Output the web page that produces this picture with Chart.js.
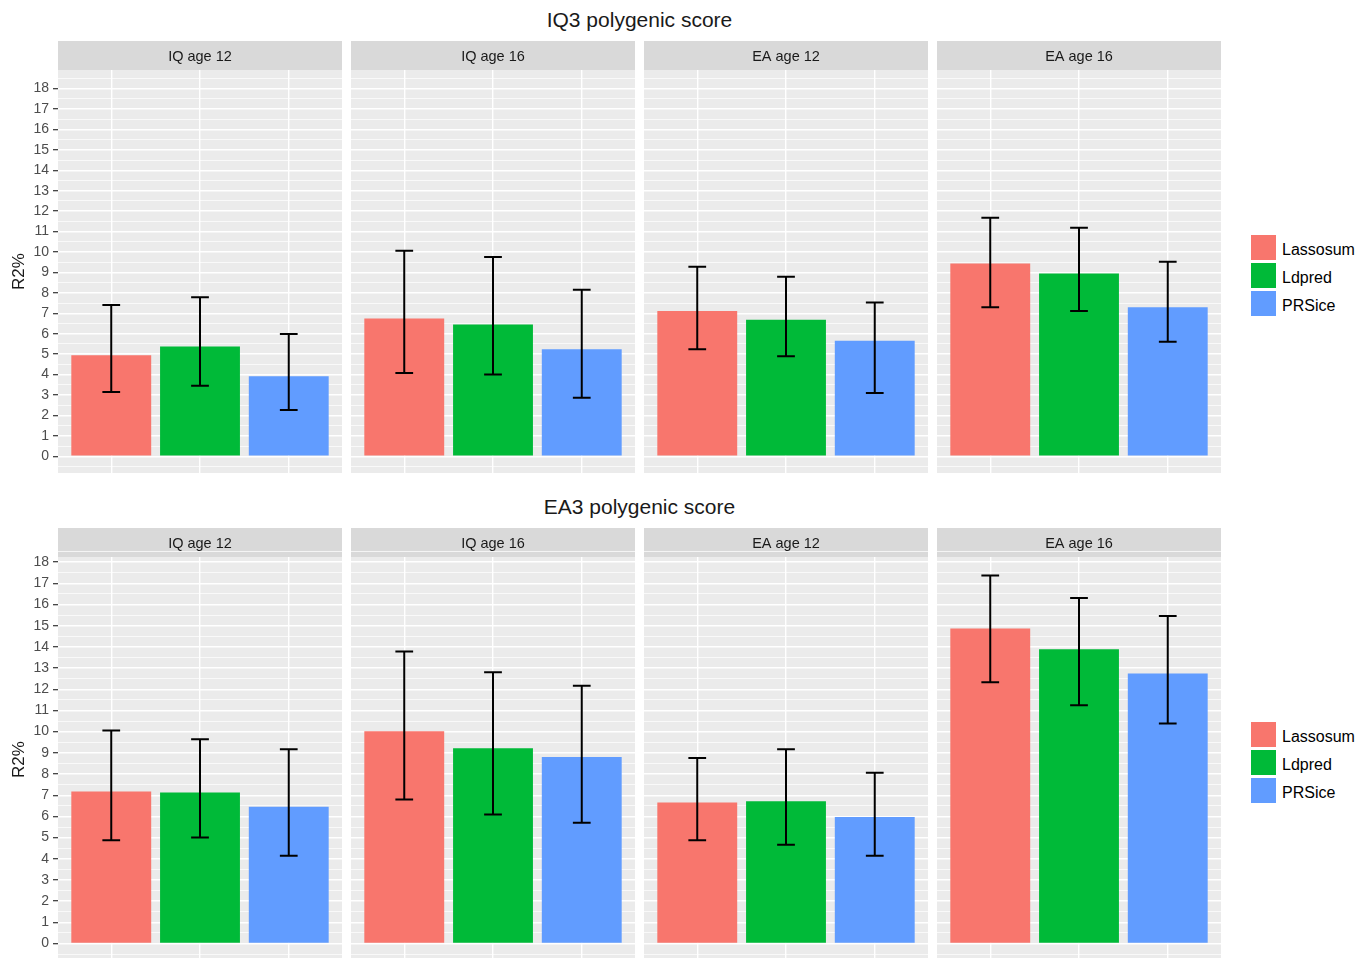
<!DOCTYPE html>
<html>
<head>
<meta charset="utf-8">
<script src="https://cdn.jsdelivr.net/npm/chart.js@4.4.1/dist/chart.umd.min.js"></script>
<style>
body { margin: 0; background: #fff; width: 1371px; height: 958px; overflow: hidden; position: relative; font-family: "Liberation Sans", Arial, sans-serif; }
canvas { position: absolute; }
.titulo { position: absolute; left: 58px; width: 1163px; text-align: center; font-size: 21px; line-height: 24px; color: #1a1a1a; }
.legenda { position: absolute; left: 1251px; }
.item { height: 28px; display: flex; align-items: center; }
.caixa { width: 25px; height: 25px; margin-right: 6px; }
.item span { font-size: 16px; color: #000; position: relative; top: 3px; }
</style>
</head>
<body>
<div class="titulo" style="top:8px">IQ3 polygenic score</div>
<div class="titulo" style="top:495px">EA3 polygenic score</div>
<div class="legenda" id="legenda-0" style="top:233px"></div>
<div class="legenda" id="legenda-1" style="top:720px"></div>
<script>
// Facets and methods
const panels = ['IQ age 12', 'IQ age 16', 'EA age 12', 'EA age 16'];
const methods = ['Lassosum', 'Ldpred', 'PRSice'];
const colors = ['#F8766D', '#00BA38', '#619CFF'];
const yTicks = [0, 1, 2, 3, 4, 5, 6, 7, 8, 9, 10, 11, 12, 13, 14, 15, 16, 17, 18];

// IQ3 polygenic score (R2 %, one value per panel)
const iq3Lassosum = [4.95, 6.75, 7.11, 9.44];
const iq3LassosumLow = [3.15, 4.07, 5.24, 7.29];
const iq3LassosumHigh = [7.40, 10.06, 9.28, 11.68];
const iq3Ldpred = [5.37, 6.45, 6.68, 8.95];
const iq3LdpredLow = [3.45, 4.00, 4.90, 7.11];
const iq3LdpredHigh = [7.78, 9.75, 8.79, 11.19];
const iq3PRSice = [3.92, 5.24, 5.65, 7.29];
const iq3PRSiceLow = [2.27, 2.86, 3.10, 5.60];
const iq3PRSiceHigh = [5.98, 8.15, 7.53, 9.52];

// EA3 polygenic score
const ea3Lassosum = [7.18, 10.02, 6.66, 14.87];
const ea3LassosumLow = [4.88, 6.80, 4.88, 12.33];
const ea3LassosumHigh = [10.05, 13.78, 8.76, 17.37];
const ea3Ldpred = [7.13, 9.21, 6.72, 13.89];
const ea3LdpredLow = [5.01, 6.09, 4.66, 11.24];
const ea3LdpredHigh = [9.64, 12.80, 9.17, 16.31];
const ea3PRSice = [6.46, 8.80, 5.97, 12.74];
const ea3PRSiceLow = [4.14, 5.70, 4.14, 10.38];
const ea3PRSiceHigh = [9.17, 12.17, 8.06, 15.46];

const rows = [
    {
        top: 41, plotHeight: 403, yMin: -0.82, yMax: 18.91,
        values: [iq3Lassosum, iq3Ldpred, iq3PRSice],
        low: [iq3LassosumLow, iq3LdpredLow, iq3PRSiceLow],
        high: [iq3LassosumHigh, iq3LdpredHigh, iq3PRSiceHigh]
    },
    {
        top: 528, plotHeight: 405, yMin: -0.87, yMax: 18.24,
        values: [ea3Lassosum, ea3Ldpred, ea3PRSice],
        low: [ea3LassosumLow, ea3LdpredLow, ea3PRSiceLow],
        high: [ea3LassosumHigh, ea3LdpredHigh, ea3PRSiceHigh]
    }
];

const panelLeft = [58, 351, 644, 937];
const panelWidth = 284;
const stripHeight = 29;
const axisWidth = 58;
const fonte = '"Liberation Sans", Arial, sans-serif';

// Panel background and facet strip
const stripPlugin = {
    id: 'strip',
    beforeDraw(chart) {
        const { ctx, chartArea } = chart;
        ctx.save();
        ctx.fillStyle = '#D9D9D9';
        ctx.fillRect(chartArea.left, 0, chartArea.width, chartArea.top);
        ctx.fillStyle = '#EBEBEB';
        ctx.fillRect(chartArea.left, chartArea.top, chartArea.width, chartArea.height);
        ctx.font = '14.5px ' + fonte;
        ctx.fillStyle = '#1A1A1A';
        ctx.textAlign = 'center';
        ctx.textBaseline = 'middle';
        ctx.fillText(chart.options.plugins.strip.text, chartArea.left + chartArea.width / 2, chartArea.top / 2 + 1);
        ctx.restore();
    }
};

// Error bars from the dataset's low/high arrays
const errorBarPlugin = {
    id: 'errorBars',
    afterDatasetsDraw(chart) {
        const { ctx } = chart;
        const x = chart.scales.x;
        const y = chart.scales.y;
        const ds = chart.data.datasets[0];
        ctx.save();
        ctx.strokeStyle = '#000';
        ctx.lineWidth = 2;
        ds.data.forEach((pt, i) => {
            const cx = x.getPixelForValue(pt.x);
            const half = x.getPixelForValue(pt.x + 0.1) - cx;
            const yLo = y.getPixelForValue(ds.errLow[i]);
            const yHi = y.getPixelForValue(ds.errHigh[i]);
            ctx.beginPath();
            ctx.moveTo(cx, yLo); ctx.lineTo(cx, yHi);
            ctx.moveTo(cx - half, yLo); ctx.lineTo(cx + half, yLo);
            ctx.moveTo(cx - half, yHi); ctx.lineTo(cx + half, yHi);
            ctx.stroke();
        });
        ctx.restore();
    }
};

function drawPanel(row, p) {
    const withAxis = p === 0;
    const extra = withAxis ? axisWidth : 0;
    const w = panelWidth + extra;
    const h = stripHeight + row.plotHeight;
    const canvas = document.createElement('canvas');
    canvas.width = w;
    canvas.height = h;
    canvas.style.width = w + 'px';
    canvas.style.height = h + 'px';
    canvas.style.left = (panelLeft[p] - extra) + 'px';
    canvas.style.top = row.top + 'px';
    document.body.appendChild(canvas);

    const halves = [];
    for (let v = -0.5; v <= 18.5; v += 0.5) halves.push(v);

    new Chart(canvas, {
        type: 'bar',
        data: {
            datasets: [{
                data: methods.map((m, i) => ({ x: i + 1, y: row.values[i][p] })),
                errLow: methods.map((m, i) => row.low[i][p]),
                errHigh: methods.map((m, i) => row.high[i][p]),
                backgroundColor: colors,
                borderWidth: 0,
                barPercentage: 0.9,
                categoryPercentage: 1
            }]
        },
        options: {
            responsive: false,
            animation: false,
            devicePixelRatio: 1,
            layout: { autoPadding: false, padding: { top: stripHeight, left: 0, right: 0, bottom: 0 } },
            plugins: {
                legend: { display: false },
                tooltip: { enabled: false },
                strip: { text: panels[p] }
            },
            scales: {
                x: {
                    type: 'linear',
                    min: 0.4,
                    max: 3.6,
                    offset: false,
                    afterBuildTicks: (s) => { s.ticks = [1, 2, 3].map(v => ({ value: v })); },
                    afterFit: (s) => { s.height = 0; s.paddingLeft = 0; s.paddingRight = 0; },
                    ticks: { display: false },
                    border: { display: false },
                    grid: { color: '#FFFFFF', lineWidth: 1.4, drawTicks: false, offset: false }
                },
                y: {
                    min: row.yMin,
                    max: row.yMax,
                    afterBuildTicks: (s) => { s.ticks = halves.map(v => ({ value: v })); },
                    afterFit: (s) => { s.width = extra; s.paddingTop = 0; s.paddingBottom = 0; },
                    border: { display: false },
                    grid: {
                        color: '#FFFFFF',
                        lineWidth: (c) => Number.isInteger(c.tick.value) ? 1.4 : 0.7,
                        drawTicks: withAxis,
                        tickLength: 5,
                        tickWidth: 1.2,
                        tickColor: (c) => yTicks.includes(c.tick.value) ? '#333333' : 'rgba(0,0,0,0)'
                    },
                    ticks: {
                        display: withAxis,
                        autoSkip: false,
                        padding: 4,
                        color: '#4D4D4D',
                        font: { family: fonte, size: 14 },
                        callback: (v) => yTicks.includes(v) ? String(v) : ''
                    },
                    title: {
                        display: withAxis,
                        text: 'R2%',
                        color: '#1A1A1A',
                        padding: { top: 9, bottom: 0 },
                        font: { family: fonte, size: 17 }
                    }
                }
            }
        },
        plugins: [stripPlugin, errorBarPlugin]
    });
}

rows.forEach((row, r) => {
    panels.forEach((name, p) => drawPanel(row, p));
    const leg = document.getElementById('legenda-' + r);
    methods.forEach((m, i) => {
        const item = document.createElement('div');
        item.className = 'item';
        item.innerHTML = '<div class="caixa" style="background:' + colors[i] + '"></div><span>' + m + '</span>';
        leg.appendChild(item);
    });
});
</script>
</body>
</html>
